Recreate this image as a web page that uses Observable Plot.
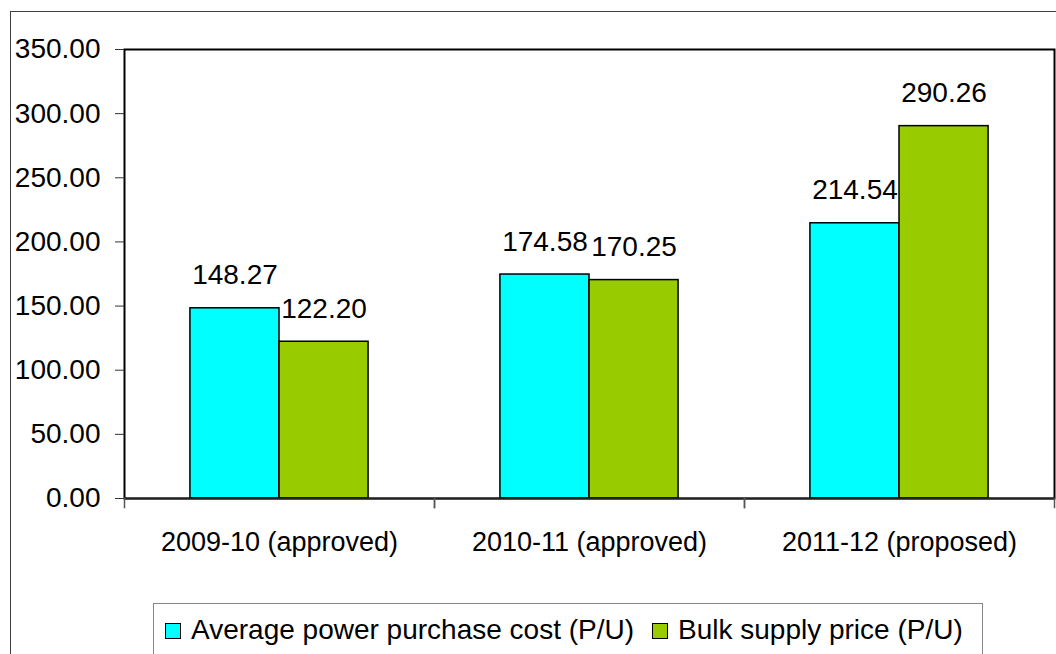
<!DOCTYPE html>
<html>
<head>
<meta charset="utf-8">
<script src="https://cdn.jsdelivr.net/npm/d3@7"></script>
<script src="https://cdn.jsdelivr.net/npm/@observablehq/plot@0.6"></script>
<style>
  html, body { margin: 0; padding: 0; background: #fff; }
  body { width: 1056px; height: 654px; position: relative; overflow: hidden; font-family: "Liberation Sans", Arial, sans-serif; }
  #border { position: absolute; left: 10px; top: 11px; width: 1200px; height: 800px; border: 1.5px solid #404040; box-sizing: border-box; }
  #chart { position: absolute; left: 0; top: 0; }
  #legend { position: absolute; left: 153px; top: 603px; width: 830px; height: 80px; border: 1.5px solid #888; box-sizing: border-box;
            font-size: 28px; color: #000; white-space: nowrap; }
  #legend .item { position: absolute; top: 10px; display: flex; align-items: center; }
  #legend .sw { width: 14px; height: 14px; border: 1.5px solid #000; margin-right: 10px; margin-top: 2px; }
</style>
</head>
<body>
<div id="border"></div>
<div id="chart"></div>
<div id="legend"></div>
<script>
const categories = ["2009-10 (approved)", "2010-11 (approved)", "2011-12 (proposed)"];
const seriesNames = ["Average power purchase cost (P/U)", "Bulk supply price (P/U)"];
const avgCost = [148.27, 174.58, 214.54];
const bulkPrice = [122.20, 170.25, 290.26];
const yTicks = [0, 50, 100, 150, 200, 250, 300, 350];
const seriesColors = ["#00FFFF", "#99CC00"];

const rows = [];
categories.forEach((c, i) => {
  rows.push({category: c, series: seriesNames[0], value: avgCost[i]});
  rows.push({category: c, series: seriesNames[1], value: bulkPrice[i]});
});

const plot = Plot.plot({
  width: 1056,
  height: 588,
  marginLeft: 123,
  marginRight: 1,
  marginTop: 49,
  marginBottom: 90,
  style: {fontFamily: '"Liberation Sans", Arial, sans-serif', fontSize: "27px", background: "transparent", color: "#000"},
  fx: {domain: categories, padding: 0, label: null},
  x: {domain: seriesNames, paddingInner: 0, paddingOuter: 0.74, round: false, axis: null},
  y: {domain: [0, 350], label: null},
  color: {domain: seriesNames, range: seriesColors},
  marks: [
    Plot.barY(rows, {fx: "category", x: "series", y: "value", fill: "series", stroke: "#000", strokeWidth: 1.5}),
    Plot.text(rows, {fx: "category", x: "series", y: "value", text: d => d.value.toFixed(2), dy: -33, fill: "#000", fontSize: 28}),
    Plot.frame({facet: "super", stroke: "#000", strokeWidth: 2}),
    Plot.ruleY([0], {stroke: "#222", strokeWidth: 2}),
    Plot.frame({anchor: "left", insetTop: 449, insetBottom: -9, stroke: "#555", strokeWidth: 1.5}),
    Plot.frame({anchor: "right", insetTop: 449, insetBottom: -9, stroke: "#555", strokeWidth: 1.5}),
    Plot.axisY({ticks: yTicks, tickSize: 9, tickPadding: 15, tickFormat: d => d.toFixed(2), label: null, stroke: "#333", fontSize: 28}),
    Plot.axisFx({anchor: "bottom", tickSize: 0, tickPadding: 33, label: null})
  ]
});
document.getElementById("chart").appendChild(plot);

const legend = document.getElementById("legend");
const legendLefts = [11, 498];
seriesNames.forEach((name, i) => {
  const item = document.createElement("div");
  item.className = "item";
  item.style.left = legendLefts[i] + "px";
  const sw = document.createElement("div");
  sw.className = "sw";
  sw.style.background = seriesColors[i];
  const label = document.createElement("span");
  label.textContent = name;
  item.appendChild(sw);
  item.appendChild(label);
  legend.appendChild(item);
});
</script>
</body>
</html>
